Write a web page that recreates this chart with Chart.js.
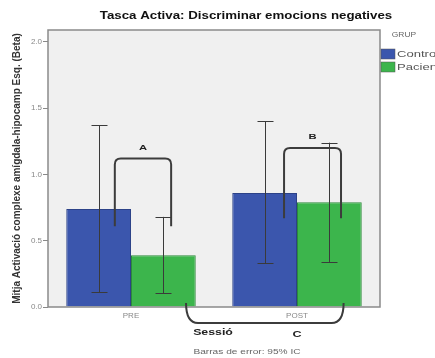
<!DOCTYPE html>
<html><head><meta charset="utf-8">
<script src="https://cdn.jsdelivr.net/npm/chart.js@4"></script>
<style>html,body{margin:0;padding:0;background:#fff}#c{display:block}</style>
</head><body>
<canvas id="c" width="435" height="358"></canvas>
<script>
const categories = ["PRE", "POST"];
const seriesNames = ["Control", "Pacient"];
const controlMeans = [0.74, 0.86];
const pacientMeans = [0.39, 0.79];
const controlLow = [0.11, 0.33];
const controlHigh = [1.37, 1.40];
const pacientLow = [0.105, 0.34];
const pacientHigh = [0.68, 1.24];
const yTicks = [0, 0.5, 1.0, 1.5, 2.0];
const bracketA = [0.61, 1.12];
const bracketB = [0.67, 1.20];
const bracketC = [0.03];

const BLUE = '#3b56ad', GREEN = '#3cb54c';
const FAM = 'Arial, "Liberation Sans", sans-serif';
const lowArr = [controlLow, pacientLow], highArr = [controlHigh, pacientHigh];

function sText(ctx, text, x, y, font, sx, color, align) {
  ctx.save();
  ctx.font = font; ctx.fillStyle = color;
  ctx.textAlign = align || 'center'; ctx.textBaseline = 'middle';
  ctx.translate(x, y); ctx.scale(sx, 1);
  ctx.fillText(text, 0, 0);
  ctx.restore();
}

const deco = {
  id: 'deco',
  beforeDatasetsDraw(chart) {
    const {ctx, chartArea: a} = chart;
    ctx.save();
    ctx.fillStyle = '#f0f0f0';
    ctx.fillRect(a.left, a.top, a.right - a.left, a.bottom - a.top);
    ctx.restore();
  },
  afterDatasetsDraw(chart) {
    const {ctx, chartArea: a, scales: {y}} = chart;
    ctx.save();
    ctx.strokeStyle = '#3a3a3a'; ctx.lineWidth = 1;
    chart.data.datasets.forEach((ds, di) => {
      chart.getDatasetMeta(di).data.forEach((bar, i) => {
        const x = Math.round(bar.x) + 0.5;
        const y1 = y.getPixelForValue(highArr[di][i]), y2 = y.getPixelForValue(lowArr[di][i]);
        ctx.beginPath();
        ctx.moveTo(x, y1); ctx.lineTo(x, y2);
        ctx.moveTo(x - 8, Math.round(y1) + 0.5); ctx.lineTo(x + 8, Math.round(y1) + 0.5);
        ctx.moveTo(x - 8, Math.round(y2) + 0.5); ctx.lineTo(x + 8, Math.round(y2) + 0.5);
        ctx.stroke();
      });
    });
    ctx.strokeStyle = '#8a8a8a'; ctx.lineWidth = 1.5;
    ctx.strokeRect(a.left, a.top, a.right - a.left, a.bottom - a.top);
    const m0 = chart.getDatasetMeta(0).data, m1 = chart.getDatasetMeta(1).data;
    ctx.strokeStyle = '#3c3c3c'; ctx.lineWidth = 2; ctx.lineJoin = 'round';
    const r = 6;
    function bracketUp(x1, x2, yb, yt) {
      ctx.beginPath();
      ctx.moveTo(x1, yb); ctx.lineTo(x1, yt + r);
      ctx.quadraticCurveTo(x1, yt, x1 + r, yt);
      ctx.lineTo(x2 - r, yt);
      ctx.quadraticCurveTo(x2, yt, x2, yt + r);
      ctx.lineTo(x2, yb);
      ctx.stroke();
    }
    const w = m0[0].width;
    bracketUp(m0[0].x + 0.25 * w, m1[0].x + 0.12 * w, y.getPixelForValue(bracketA[0]), y.getPixelForValue(bracketA[1]));
    bracketUp(m0[1].x + 0.30 * w, m1[1].x + 0.18 * w, y.getPixelForValue(bracketB[0]), y.getPixelForValue(bracketB[1]));
    const cx1 = m1[0].x + 0.35 * w, cx2 = m1[1].x + 0.22 * w;
    const cyT = y.getPixelForValue(bracketC[0]), cyB = a.bottom + 16, rc = 12;
    ctx.beginPath();
    ctx.moveTo(cx1, cyT);
    ctx.quadraticCurveTo(cx1, cyB, cx1 + rc, cyB);
    ctx.lineTo(cx2 - rc, cyB);
    ctx.quadraticCurveTo(cx2, cyB, cx2, cyT);
    ctx.stroke();
    ctx.restore();
    sText(ctx, 'A', (m0[0].x + 0.25 * w + m1[0].x + 0.12 * w) / 2, y.getPixelForValue(bracketA[1]) - 11, 'bold 8px ' + FAM, 1.4, '#222');
    sText(ctx, 'B', (m0[1].x + 0.30 * w + m1[1].x + 0.18 * w) / 2, y.getPixelForValue(bracketB[1]) - 11, 'bold 8px ' + FAM, 1.4, '#222');
    sText(ctx, 'C', m1[1].x - 0.5 * w, cyB + 12, 'bold 9px ' + FAM, 1.4, '#222');
    sText(ctx, 'Tasca Activa: Discriminar emocions negatives', 246, 16, 'bold 10px ' + FAM, 1.33, '#111');
    sText(ctx, 'Sessió', 213, 333, 'bold 8.5px ' + FAM, 1.45, '#222');
    sText(ctx, 'Barras de error: 95% IC', 247, 352, '7px ' + FAM, 1.45, '#666');
    sText(ctx, 'GRUP', 404, 35, '6.5px ' + FAM, 1.3, '#666');
    const cols = [BLUE, GREEN];
    seriesNames.forEach((n, i) => {
      const ty = 49 + i * 13;
      ctx.save();
      ctx.fillStyle = cols[i];
      ctx.fillRect(381, ty, 14, 10);
      ctx.strokeStyle = '#555'; ctx.lineWidth = 0.5;
      ctx.strokeRect(381, ty, 14, 10);
      ctx.restore();
      sText(ctx, n, 397, ty + 5.5, '9px ' + FAM, 1.45, '#555', 'left');
    });
  }
};

new Chart(document.getElementById('c'), {
  type: 'bar',
  data: {
    labels: categories,
    datasets: [
      {label: seriesNames[0], data: controlMeans, backgroundColor: BLUE, borderColor: '#2c4288', borderWidth: 1},
      {label: seriesNames[1], data: pacientMeans, backgroundColor: GREEN, borderColor: '#2c8a3a', borderWidth: 1}
    ]
  },
  options: {
    responsive: false, animation: false,
    layout: {padding: {top: 30, right: 55, left: 0, bottom: 0}},
    plugins: {legend: {display: false}, title: {display: false}, tooltip: {enabled: false}},
    datasets: {bar: {categoryPercentage: 0.78, barPercentage: 1}},
    scales: {
      x: {
        grid: {display: false, drawTicks: false},
        border: {display: false},
        ticks: {color: '#888', font: {size: 8, family: FAM}, padding: 4},
        afterFit(s) { s.height = 51; }
      },
      y: {
        min: 0, max: 2.09,
        afterBuildTicks(s) { s.ticks = yTicks.map(v => ({value: v})); },
        grid: {drawOnChartArea: false, tickLength: 5, color: '#888'},
        border: {display: false},
        ticks: {color: '#888', font: {size: 8, family: FAM}, padding: 1,
                callback: v => Number(v).toFixed(1)},
        title: {display: true, text: 'Mitja Activació complexe amígdala-hipocamp Esq. (Beta)',
                color: '#333', font: {size: 10, weight: 'bold', family: FAM}, padding: {top: 11, bottom: 0}},
        afterFit(s) { s.width = 48; }
      }
    }
  },
  plugins: [deco]
});
</script>
</body></html>
